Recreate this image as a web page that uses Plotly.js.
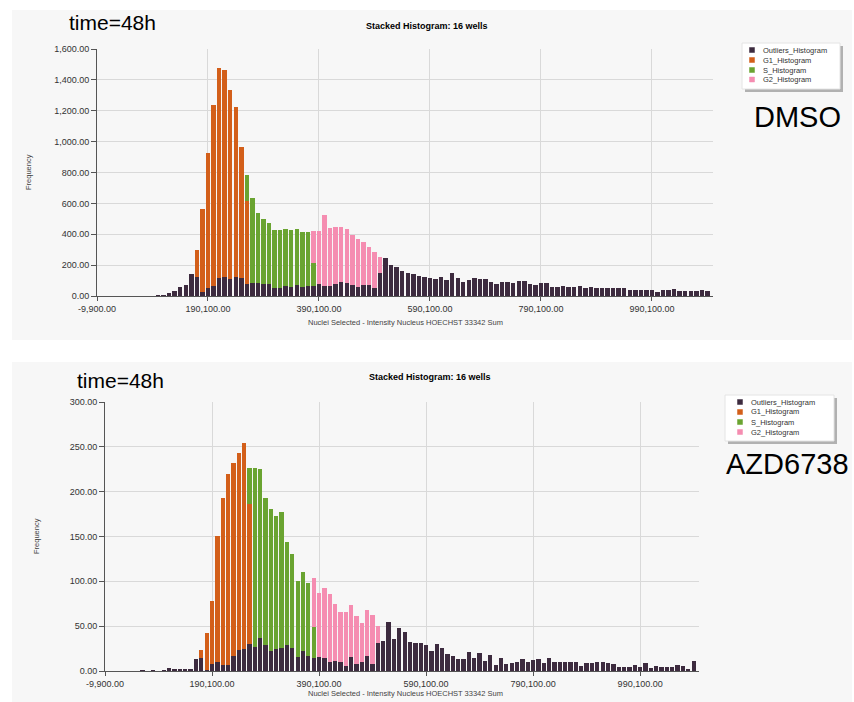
<!DOCTYPE html>
<html>
<head>
<meta charset="utf-8">
<script src="https://cdn.plot.ly/plotly-3.0.1.min.js"></script>
<style>
  html, body { margin: 0; padding: 0; background: #ffffff; }
  #chart { width: 854px; height: 702px; }
</style>
</head>
<body>
<div id="chart"></div>
<script>
// Histogram bins: 10,000-wide, centred on -9,900 + k * 10,000
const binStart = -9900;
const binWidth = 10000;
const xTickVals = [-9900, 190100, 390100, 590100, 790100, 990100];
const seriesNames = ['Outliers_Histogram', 'G1_Histogram', 'S_Histogram', 'G2_Histogram'];
const seriesColors = ['#3d2b3f', '#d35f1a', '#6aa431', '#f58db1'];

// DMSO, time=48h (first bin index + counts per bin)
const dmsoOutliersStart = 10;
const dmsoOutliers = [2, 4, 7, 17, 33, 56, 72, 141, 122, 26,
  50, 67, 117, 122, 109, 122, 117, 80, 87, 87,
  81, 81, 55, 55, 68, 59, 72, 59, 68, 63,
  77, 66, 68, 77, 92, 85, 70, 59, 74, 74,
  55, 146, 245, 201, 185, 162, 151, 140, 132, 125,
  119, 108, 121, 104, 147, 114, 91, 101, 114, 108,
  108, 93, 78, 89, 89, 84, 99, 97, 76, 73,
  82, 82, 56, 60, 67, 56, 56, 67, 50, 56,
  50, 50, 50, 50, 50, 54, 41, 41, 39, 39,
  37, 26, 39, 39, 43, 30, 30, 32, 30, 39, 30];
const dmsoG1Start = 18;
const dmsoG1 = [173, 540, 879, 1172, 1363, 1341, 1228, 1104, 849, 534];
const dmsoSStart = 27;
const dmsoS = [169, 547, 453, 419, 389, 371, 371, 369, 367, 365, 358, 349, 153];
const dmsoG2Start = 39;
const dmsoG2 = [204, 343, 459, 374, 369, 358, 350, 326, 313, 276, 241, 229, 105];

// AZD6738, time=48h
const azdOutliersStart = 7;
const azdOutliers = [1, 0, 1, 0, 1, 3, 2, 2, 2, 2.5,
  13, 15, 1, 8, 10, 7, 7, 17, 23, 25,
  30, 27, 37, 29, 22, 25, 26, 29, 26, 16,
  22, 17, 15, 16, 15, 10, 11, 10, 6, 16,
  8, 10, 17, 8, 31, 34, 55, 36, 48, 43,
  32, 31, 31, 29, 22, 30, 26, 19, 17, 13,
  13, 21, 15, 20, 11, 18, 7, 14, 8, 9,
  10, 13, 10, 12, 13, 9, 14, 10, 10, 10,
  10, 10, 6, 9, 9, 10, 10, 9, 8, 4,
  4, 4, 7, 4, 9, 3, 6, 5, 5, 5,
  7, 6, 2, 11];
const azdG1Start = 18;
const azdG1 = [8, 41, 70, 141, 186, 213, 215, 220, 229, 156];
const azdSStart = 27;
const azdS = [40, 199, 188, 164, 159, 148, 151, 115, 105, 84, 88, 81, 34];
const azdG2Start = 39;
const azdG2 = [55, 71, 78, 76, 64, 56, 60, 58, 53, 43, 51, 55, 19];

const W = 854, H = 702;
const px = x => x / W;
const py = y => 1 - y / H;

// "1,234.00" style labels with a plain hyphen for negatives
function fmt(v) {
  const s = Math.abs(v).toFixed(2).replace(/\B(?=(\d{3})+(?!\d))/g, ',');
  return (v < 0 ? '-' : '') + s;
}

function binCentres(first, count) {
  const out = [];
  for (let i = 0; i < count; i++) out.push(binStart + (first + i) * binWidth);
  return out;
}

function barTrace(idx, first, values, xa, ya) {
  return {
    type: 'bar',
    name: seriesNames[idx],
    x: binCentres(first, values.length),
    y: values,
    xaxis: xa, yaxis: ya,
    marker: { color: seriesColors[idx], line: { width: 0 } },
    showlegend: false,
    hoverinfo: 'x+y+name'
  };
}

const data = [
  barTrace(0, dmsoOutliersStart, dmsoOutliers, 'x', 'y'),
  barTrace(1, dmsoG1Start, dmsoG1, 'x', 'y'),
  barTrace(2, dmsoSStart, dmsoS, 'x', 'y'),
  barTrace(3, dmsoG2Start, dmsoG2, 'x', 'y'),
  barTrace(0, azdOutliersStart, azdOutliers, 'x2', 'y2'),
  barTrace(1, azdG1Start, azdG1, 'x2', 'y2'),
  barTrace(2, azdSStart, azdS, 'x2', 'y2'),
  barTrace(3, azdG2Start, azdG2, 'x2', 'y2')
];

const FONT = 'Liberation Sans, Arial, sans-serif';
const tickFont = { family: FONT, size: 9, color: '#333333' };

function xAxis(domain, anchor) {
  return {
    domain: domain, anchor: anchor,
    range: [-9900, 1100100],
    tickmode: 'array', tickvals: xTickVals, ticktext: xTickVals.map(fmt),
    showgrid: true, gridcolor: '#d9d9d9', gridwidth: 1,
    showline: true, linecolor: '#555555', linewidth: 1,
    ticks: 'outside', ticklen: 4, tickcolor: '#555555',
    zeroline: false, tickfont: tickFont, fixedrange: true
  };
}
function yAxis(domain, anchor, max, step) {
  return {
    domain: domain, anchor: anchor,
    range: [0, max], dtick: step, tick0: 0, tickformat: ',.2f',
    showgrid: true, gridcolor: '#d9d9d9', gridwidth: 1,
    showline: true, linecolor: '#555555', linewidth: 1,
    ticks: 'outside', ticklen: 5, tickcolor: '#555555',
    zeroline: false, tickfont: tickFont, fixedrange: true
  };
}

const shapes = [
  // panel backgrounds
  { type: 'rect', xref: 'paper', yref: 'paper', x0: px(12), x1: px(852), y0: py(340), y1: py(10),
    fillcolor: '#f7f7f7', line: { width: 0 }, layer: 'below' },
  { type: 'rect', xref: 'paper', yref: 'paper', x0: px(12), x1: px(852), y0: py(702), y1: py(362),
    fillcolor: '#f7f7f7', line: { width: 0 }, layer: 'below' }
];
const annotations = [];

function text(x, y, str, size, opts) {
  annotations.push(Object.assign({
    xref: 'paper', yref: 'paper', x: px(x), y: py(y), text: str, showarrow: false,
    xanchor: 'center', yanchor: 'middle',
    font: { family: FONT, size: size, color: '#000000' }
  }, opts || {}));
}

function legendBox(x0, y0, x1, y1, rowYs, markerX, textX) {
  shapes.push({ type: 'rect', xref: 'paper', yref: 'paper', x0: px(x0 + 3), x1: px(x1 + 3), y0: py(y1 + 3), y1: py(y0 + 3),
    fillcolor: 'rgba(90,90,90,0.45)', line: { width: 0 }, layer: 'above' });
  shapes.push({ type: 'rect', xref: 'paper', yref: 'paper', x0: px(x0), x1: px(x1), y0: py(y1), y1: py(y0),
    fillcolor: '#ffffff', line: { width: 1, color: '#e4e4e4' }, layer: 'above' });
  seriesNames.forEach((name, i) => {
    const cy = rowYs[i];
    shapes.push({ type: 'rect', xref: 'paper', yref: 'paper',
      x0: px(markerX - 2.5), x1: px(markerX + 2.5), y0: py(cy + 2.5), y1: py(cy - 2.5),
      fillcolor: seriesColors[i], line: { width: 0.5, color: seriesColors[i] }, layer: 'above' });
    text(textX, cy, name, 7.5, { xanchor: 'left', font: { family: FONT, size: 7.5, color: '#333333' } });
  });
}

// top panel texts
text(112, 23, 'time=48h', 21);
text(427, 26, '<b>Stacked Histogram: 16 wells</b>', 9);
text(405, 322, 'Nuclei Selected - Intensity Nucleus HOECHST 33342 Sum', 7.5, { font: { family: FONT, size: 7.5, color: '#444444' } });
text(29, 172, 'Frequency', 7.5, { textangle: -90, font: { family: FONT, size: 7.5, color: '#444444' } });
text(797, 117, 'DMSO', 29);
legendBox(742, 43, 840, 89, [50, 60, 70, 79.5], 752, 761);

// bottom panel texts
text(121, 380, 'time=48h', 21);
text(430, 377, '<b>Stacked Histogram: 16 wells</b>', 9);
text(405, 693, 'Nuclei Selected - Intensity Nucleus HOECHST 33342 Sum', 7.5, { font: { family: FONT, size: 7.5, color: '#444444' } });
text(36, 536, 'Frequency', 7.5, { textangle: -90, font: { family: FONT, size: 7.5, color: '#444444' } });
text(787, 464, 'AZD6738', 29);
legendBox(725, 395, 834, 441, [402, 412, 422, 432], 740, 749);

const layout = {
  width: W, height: H,
  margin: { l: 0, r: 0, t: 0, b: 0 },
  paper_bgcolor: '#ffffff',
  plot_bgcolor: 'rgba(0,0,0,0)',
  barmode: 'stack',
  bargap: 0.2,
  showlegend: false,
  xaxis: xAxis([px(97), px(713)], 'y'),
  yaxis: yAxis([py(296), py(49)], 'x', 1600, 200),
  xaxis2: xAxis([px(105), px(699)], 'y2'),
  yaxis2: yAxis([py(671), py(402)], 'x2', 300, 50),
  shapes: shapes,
  annotations: annotations
};

Plotly.newPlot('chart', data, layout, { displayModeBar: false, staticPlot: true });
</script>
</body>
</html>
